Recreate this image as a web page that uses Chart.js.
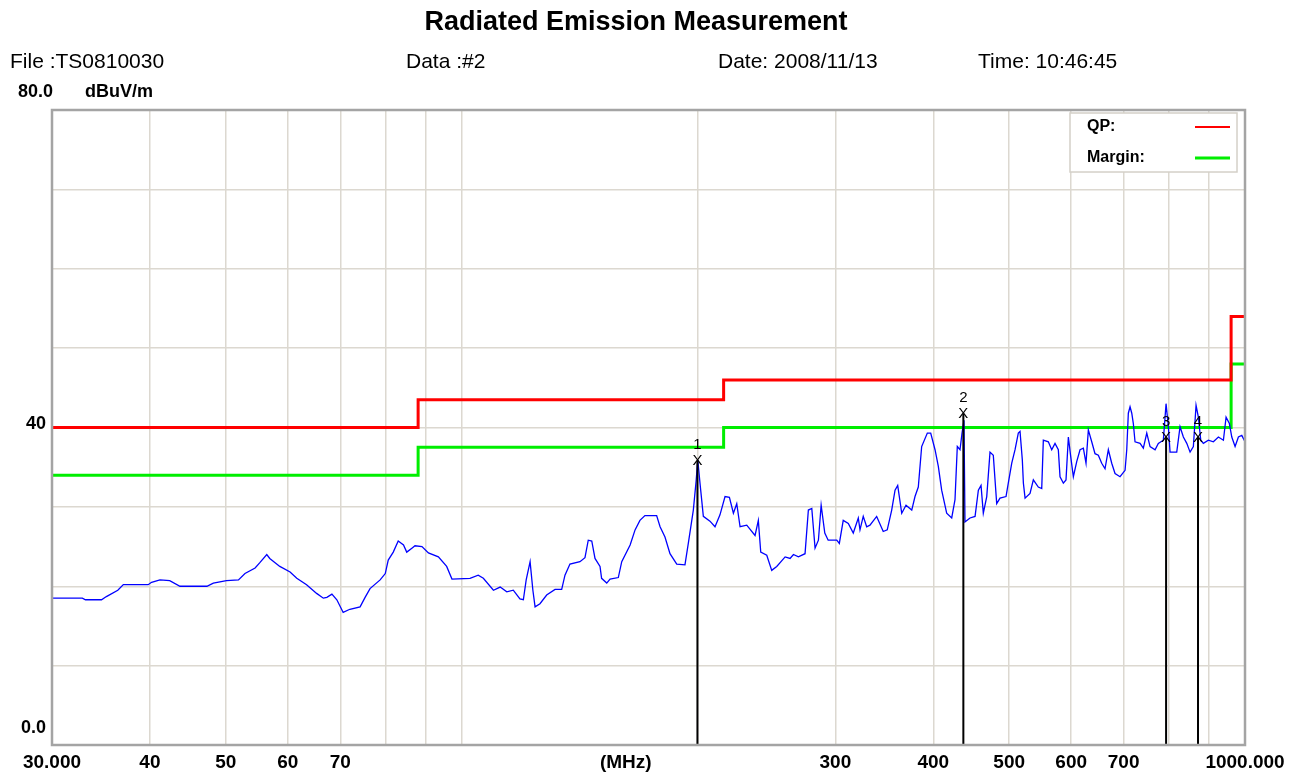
<!DOCTYPE html>
<html>
<head>
<meta charset="utf-8">
<title>Radiated Emission Measurement</title>
<script src="https://cdn.jsdelivr.net/npm/chart.js@4.4.0/dist/chart.umd.min.js"></script>
<style>
  body { margin: 0; background: #fff; font-family: "Liberation Sans", Arial, sans-serif; }
  #wrap { position: relative; width: 1295px; height: 773px; }
  #wrap canvas { position: absolute; left: 0; top: 0; }
  .txt { position: absolute; white-space: nowrap; color: #000; line-height: 1; }
</style>
</head>
<body>
<div id="wrap">
  <canvas id="chart" width="1295" height="773"></canvas>
  <div class="txt" style="left:0;width:1272px;top:8px;text-align:center;font-weight:bold;font-size:27px">Radiated Emission Measurement</div>
  <div class="txt" style="left:10px;top:50px;font-size:21px">File :TS0810030</div>
  <div class="txt" style="left:406px;top:50px;font-size:21px">Data :#2</div>
  <div class="txt" style="left:718px;top:50px;font-size:21px">Date: 2008/11/13</div>
  <div class="txt" style="left:978px;top:50px;font-size:21px">Time: 10:46:45</div>
</div>

<script>
// Radiated emission scan, 30 MHz - 1 GHz

// measured trace (MHz / dBuV/m)
var traceFreq = [
  30.0, 32.8, 33.1, 34.7, 35.2, 36.4, 37.0, 39.8, 40.2, 41.2, 42.4, 43.7, 47.3, 48.2, 50.1, 51.9,
  52.9, 54.5, 55.3, 56.4, 56.9, 58.6, 60.4, 61.6, 63.4, 65.3, 66.6, 67.3, 68.3, 69.3, 70.6, 72.0,
  74.2, 75.3, 76.4, 78.7, 79.9, 80.6, 81.8, 83.0, 84.3, 85.1, 86.4, 87.2, 89.0, 90.7, 93.4, 95.7,
  97.2, 102.5, 105.0, 106.6, 109.8, 112.0, 114.2, 116.4, 118.7, 119.9, 120.9, 122.3, 123.3, 124.1, 125.9, 128.4,
  131.6, 134.2, 135.5, 137.5, 141.6, 143.7, 145.1, 146.6, 148.0, 150.2, 150.9, 153.2, 154.7, 158.5, 160.1, 164.1,
  166.5, 168.9, 171.4, 177.4, 179.2, 181.8, 184.5, 188.2, 192.8, 194.7, 197.6, 199.2, 200.2, 201.5, 203.5, 207.5,
  210.6, 213.7, 216.9, 219.7, 222.3, 224.5, 226.7, 231.2, 236.9, 239.2, 240.9, 245.2, 248.8, 252.5, 258.8, 262.6,
  265.2, 269.1, 274.4, 277.1, 279.9, 282.6, 285.4, 287.7, 290.8, 293.7, 301.2, 303.5, 307.0, 311.6, 316.2, 320.9,
  322.5, 325.6, 328.9, 332.1, 338.7, 345.3, 349.4, 354.0, 357.5, 360.3, 364.6, 369.2, 375.5, 379.1, 382.8, 386.6,
  393.1, 397.0, 402.1, 406.0, 410.0, 416.1, 422.3, 426.4, 429.3, 432.7, 435.3, 437.8, 439.1, 445.6, 452.3, 456.7,
  460.3, 463.4, 468.1, 472.6, 477.2, 482.0, 486.7, 495.4, 498.7, 503.8, 508.7, 513.6, 516.2, 519.7, 521.3, 523.9,
  531.6, 536.8, 544.7, 550.2, 552.8, 561.0, 566.6, 572.1, 577.7, 580.6, 586.3, 590.9, 595.0, 599.2, 603.8, 609.8,
  615.8, 621.8, 626.7, 631.0, 637.3, 643.5, 649.8, 656.3, 662.7, 669.2, 675.9, 682.5, 692.6, 702.9, 706.4, 709.7,
  713.3, 716.9, 720.2, 723.8, 734.6, 741.7, 749.2, 756.5, 767.7, 775.1, 786.6, 790.6, 792.9, 798.3, 802.3, 818.2,
  826.2, 834.3, 842.7, 850.9, 859.2, 866.0, 871.9, 878.1, 884.8, 897.9, 911.2, 924.8, 938.5, 945.9, 955.1, 961.9,
  971.3, 980.8, 990.6, 1000.0
];
var traceLevel = [
  18.5, 18.5, 18.3, 18.3, 18.7, 19.5, 20.2, 20.2, 20.5, 20.8, 20.7, 20.0, 20.0, 20.4, 20.7, 20.8,
  21.6, 22.3, 23.0, 24.0, 23.5, 22.5, 21.8, 21.0, 20.2, 19.1, 18.5, 18.6, 19.0, 18.3, 16.7, 17.1,
  17.4, 18.6, 19.7, 20.8, 21.6, 23.3, 24.3, 25.7, 25.2, 24.3, 24.8, 25.1, 25.0, 24.2, 23.7, 22.5,
  20.9, 21.0, 21.4, 21.0, 19.5, 19.9, 19.3, 19.5, 18.4, 18.3, 20.8, 23.1, 19.5, 17.4, 17.8, 18.9,
  19.6, 19.6, 21.4, 22.8, 23.1, 23.6, 25.8, 25.7, 23.5, 22.5, 21.0, 20.4, 20.9, 21.1, 23.1, 25.2,
  27.1, 28.3, 28.9, 28.9, 27.5, 26.2, 24.1, 22.8, 22.7, 25.4, 29.6, 33.2, 35.9, 33.0, 28.8, 28.2,
  27.5, 29.0, 31.3, 31.2, 29.2, 30.4, 27.5, 27.7, 26.4, 28.3, 24.3, 23.9, 22.0, 22.5, 23.7, 23.5,
  24.0, 23.7, 24.1, 29.6, 29.8, 24.8, 25.8, 30.2, 26.7, 25.8, 25.8, 25.4, 28.3, 27.9, 26.7, 28.6,
  27.1, 28.8, 27.5, 27.7, 28.8, 26.9, 27.1, 29.6, 32.1, 32.7, 29.2, 30.2, 29.6, 31.3, 32.5, 37.6,
  39.3, 39.3, 37.2, 35.1, 32.1, 29.2, 28.6, 30.9, 37.6, 37.2, 39.3, 40.9, 28.1, 28.6, 28.8, 32.1,
  32.7, 29.2, 31.3, 36.9, 36.5, 30.4, 31.1, 31.3, 33.0, 35.5, 37.2, 39.3, 39.5, 35.9, 33.0, 31.1,
  31.7, 33.4, 32.5, 32.3, 38.4, 38.2, 37.2, 38.0, 37.2, 33.8, 33.0, 33.4, 38.8, 36.3, 33.8, 35.7,
  37.2, 37.4, 35.5, 39.7, 38.2, 36.7, 36.5, 35.5, 34.8, 37.2, 35.5, 34.2, 33.8, 34.6, 37.2, 41.8,
  42.6, 41.8, 40.5, 38.2, 38.0, 37.4, 39.3, 37.6, 37.2, 38.0, 38.4, 41.3, 43.0, 40.1, 36.9, 36.9,
  40.1, 38.8, 38.0, 36.9, 37.6, 42.8, 41.3, 38.4, 38.0, 38.4, 38.2, 38.8, 38.4, 41.3, 40.5, 38.8,
  37.6, 38.8, 39.0, 38.2
];

// limit lines (step changes at 88, 216, 960 MHz)
var limitFreq = [30, 88, 216, 960, 1000];
var qpLevel = [40, 43.5, 46, 54, 54];
var marginLevel = [34, 37.5, 40, 48, 48];

// marked peaks
var markerFreq = [200, 437, 793, 871];
var markerLevel = [35.8, 41.7, 38.7, 38.7];
var markerNames = ['1', '2', '3', '4'];

// axes
var xGridValues = [30, 40, 50, 60, 70, 80, 90, 100, 200, 300, 400, 500, 600, 700, 800, 900, 1000];
var xLabelValues = [30, 40, 50, 60, 70, 162, 300, 400, 500, 600, 700, 1000];
var xLabelTexts = ['30.000', '40', '50', '60', '70', '(MHz)', '300', '400', '500', '600', '700', '1000.000'];
var yLabelValues = [0, 40];
var yLabelTexts = ['0.0', '40'];

var GRID = 'rgb(220,216,208)';
var FONT = '"Liberation Sans", Arial, sans-serif';
Chart.defaults.font.family = FONT;
Chart.defaults.color = '#000';

function pairs(xs, ys) {
  return xs.map(function (x, i) { return { x: x, y: ys[i] }; });
}

function markerLines() {
  var pts = [];
  markerFreq.forEach(function (f, i) {
    pts.push({ x: f, y: 0 }, { x: f, y: markerLevel[i] }, { x: f, y: null });
  });
  return pts;
}

var framePlugin = {
  id: 'frame',
  afterDatasetsDraw: function (chart) {
    var a = chart.chartArea, ctx = chart.ctx;
    ctx.save();
    ctx.strokeStyle = '#a4a4a4';
    ctx.lineWidth = 2.5;
    ctx.strokeRect(a.left, a.top, a.right - a.left, a.bottom - a.top);
    ctx.restore();
  }
};

var markerPlugin = {
  id: 'markers',
  afterDatasetsDraw: function (chart) {
    var ctx = chart.ctx, xs = chart.scales.x, ys = chart.scales.y;
    ctx.save();
    ctx.fillStyle = '#000';
    ctx.textAlign = 'center';
    ctx.textBaseline = 'middle';
    ctx.font = '15px ' + FONT;
    markerFreq.forEach(function (f, i) {
      var px = xs.getPixelForValue(f), py = ys.getPixelForValue(markerLevel[i]);
      ctx.fillText('X', px, py);
      ctx.fillText(markerNames[i], px, py - 16);
    });
    ctx.restore();
  }
};

var axisTextPlugin = {
  id: 'axisText',
  afterDraw: function (chart) {
    var ctx = chart.ctx, ys = chart.scales.y;
    ctx.save();
    ctx.fillStyle = '#000';
    ctx.font = 'bold 18px ' + FONT;
    ctx.textBaseline = 'middle';
    ctx.textAlign = 'right';
    yLabelValues.forEach(function (v, i) {
      var off = v === 0 ? 17 : 3;
      ctx.fillText(yLabelTexts[i], 46, ys.getPixelForValue(v) - off);
    });
    ctx.textAlign = 'left';
    var top = ys.getPixelForValue(80) - 18;
    ctx.fillText('80.0', 18, top);
    ctx.fillText('dBuV/m', 85, top);
    ctx.restore();
  }
};

var legendPlugin = {
  id: 'limitLegend',
  afterDraw: function (chart) {
    var ctx = chart.ctx, a = chart.chartArea;
    var items = chart.data.datasets.filter(function (d) { return d.legendText; });
    var bx = a.right - 175, by = a.top + 3, bw = 167, bh = 59;
    ctx.save();
    ctx.fillStyle = '#fff';
    ctx.fillRect(bx, by, bw, bh);
    ctx.strokeStyle = '#d4d0c8';
    ctx.lineWidth = 1.5;
    ctx.strokeRect(bx, by, bw, bh);
    ctx.font = 'bold 16px ' + FONT;
    ctx.textBaseline = 'middle';
    ctx.fillStyle = '#000';
    items.forEach(function (d, i) {
      var y = by + 14 + i * 31;
      ctx.fillText(d.legendText, bx + 17, y);
      ctx.strokeStyle = d.borderColor;
      ctx.lineWidth = i === 0 ? 2 : 3;
      ctx.beginPath();
      ctx.moveTo(bx + 125, y);
      ctx.lineTo(bx + 160, y);
      ctx.stroke();
    });
    ctx.restore();
  }
};

new Chart(document.getElementById('chart'), {
  type: 'line',
  data: {
    datasets: [
      {
        data: markerLines(),
        borderColor: '#000',
        borderWidth: 2,
        pointRadius: 0,
        spanGaps: false,
        order: 0
      },
      {
        data: pairs(traceFreq, traceLevel),
        borderColor: '#0000ff',
        borderWidth: 1.3,
        pointRadius: 0,
        tension: 0,
        order: 1
      },
      {
        legendText: 'QP:',
        data: pairs(limitFreq, qpLevel),
        borderColor: '#ff0000',
        borderWidth: 3,
        pointRadius: 0,
        stepped: 'before',
        order: 2
      },
      {
        legendText: 'Margin:',
        data: pairs(limitFreq, marginLevel),
        borderColor: '#00ee00',
        borderWidth: 3,
        pointRadius: 0,
        stepped: 'before',
        order: 3
      }
    ]
  },
  options: {
    responsive: false,
    animation: false,
    layout: { padding: { top: 110, right: 50, left: 0, bottom: 0 } },
    plugins: { legend: { display: false }, tooltip: { enabled: false } },
    scales: {
      x: {
        type: 'logarithmic',
        min: 30,
        max: 1000,
        afterBuildTicks: function (scale) {
          var vals = xGridValues.concat([162]).sort(function (a, b) { return a - b; });
          scale.ticks = vals.map(function (v) { return { value: v }; });
        },
        afterFit: function (scale) { scale.height = 28; },
        border: { display: false },
        grid: {
          drawTicks: false,
          color: function (c) {
            return c.tick && xGridValues.indexOf(c.tick.value) < 0 ? 'rgba(0,0,0,0)' : GRID;
          },
          lineWidth: 1.5
        },
        ticks: {
          autoSkip: false,
          maxRotation: 0,
          padding: 6,
          color: '#000',
          font: { size: 19, weight: 'bold' },
          callback: function (v) {
            var i = xLabelValues.indexOf(v);
            return i >= 0 ? xLabelTexts[i] : '';
          }
        }
      },
      y: {
        min: 0,
        max: 80,
        afterFit: function (scale) { scale.width = 52; },
        border: { display: false },
        grid: { drawTicks: false, color: GRID, lineWidth: 1.5 },
        ticks: { stepSize: 10, display: false }
      }
    }
  },
  plugins: [framePlugin, markerPlugin, axisTextPlugin, legendPlugin]
});
</script>
</body>
</html>
